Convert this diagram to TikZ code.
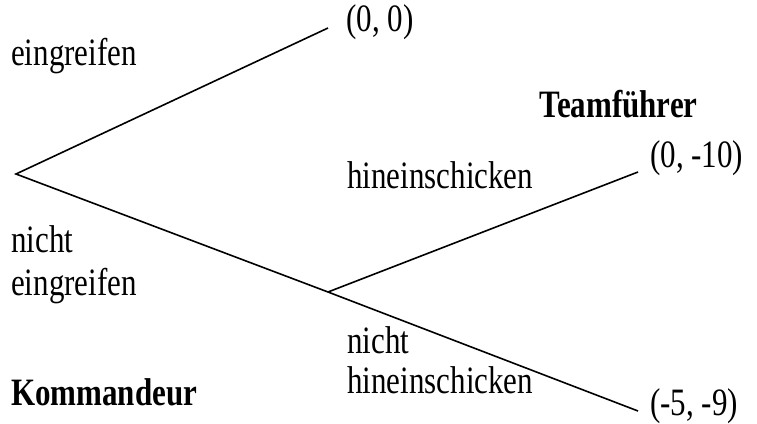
\documentclass[tikz,border=0pt]{standalone}
\usepackage{fontspec}
\usepackage{graphicx}
\setmainfont{Liberation Serif}
\newcommand{\vst}[1]{\scalebox{1}[1.25]{#1}}
\begin{document}
\begin{tikzpicture}[x=1pt,y=-1pt,
  edge/.style={line width=1.6pt, black},
  lbl/.style={anchor=base west, inner sep=0pt, font=\fontsize{31}{37}\selectfont},
  blbl/.style={lbl, font=\fontsize{31}{37}\selectfont\bfseries}]
\useasboundingbox (0,0) rectangle (757,423);
\coordinate (R) at (16,174);
\coordinate (L1) at (328,28);
\coordinate (M) at (328,292);
\coordinate (L2) at (638,172);
\coordinate (L3) at (638,411);
\draw[edge] (L1) -- (R) -- (M) -- (L3);
\draw[edge] (M) -- (L2);
\node[lbl] (p1) at (346,31) {\vst{(0, 0)}};
\node[lbl] (a1) at (11,65) {\vst{eingreifen}};
\node[blbl] (tf) at (539,117) {\vst{Teamführer}};
\node[lbl] (a3) at (347,188) {\vst{hineinschicken}};
\node[lbl] (p2) at (650,167) {\vst{(0, -10)}};
\node[lbl] (a2a) at (11,252) {\vst{nicht}};
\node[lbl] (a2b) at (11,295) {\vst{eingreifen}};
\node[lbl] (a4a) at (347,353) {\vst{nicht}};
\node[lbl] (a4b) at (347,393) {\vst{hineinschicken}};
\node[blbl] (km) at (11,405) {\vst{Kommandeur}};
\node[lbl] (p3) at (650,415) {\vst{(-5, -9)}};
\end{tikzpicture}
\end{document}
